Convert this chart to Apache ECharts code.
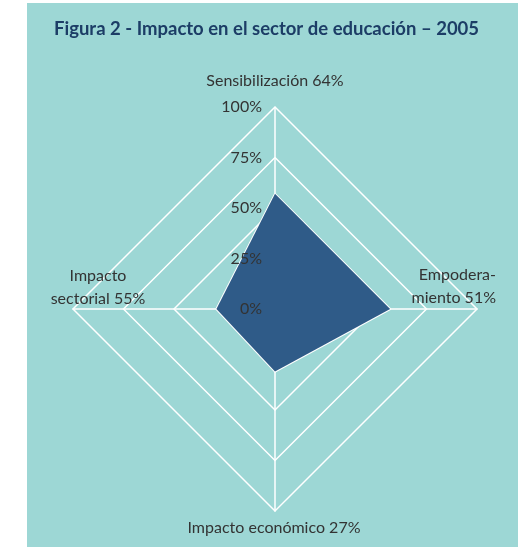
<!DOCTYPE html>
<html>
<head>
<meta charset="utf-8">
<script src="https://cdn.jsdelivr.net/npm/echarts@6/dist/echarts.min.js"></script>
<style>
  html, body { margin: 0; padding: 0; background: #ffffff; }
  #bg { position: absolute; left: 27px; top: 3px; width: 491px; height: 544px; background: #9dd7d5; }
  #chart { position: absolute; left: 0; top: 0; width: 525px; height: 550px; }
</style>
</head>
<body>
<div id="bg"></div>
<div id="chart"></div>
<script>
// Indicators in ECharts order (counter-clockwise from top): top, left, bottom, right
const indicatorNames = ['Sensibilización 64%', 'Impacto\nsectorial 55%', 'Impacto económico 27%', 'Empodera-\nmiento 51%'];
const seriesValues = [57, 29, 31, 57];
const tickValues = [0, 25, 50, 75, 100];
const titleText = 'Figura 2 - Impacto en el sector de educación – 2005';

const FONT = 'Lato';
const cx = 275, cy = 309, R = 202;

const chart = echarts.init(document.getElementById('chart'), null, { renderer: 'canvas' });
chart.setOption({
  backgroundColor: 'transparent',
  animation: false,
  textStyle: { fontFamily: FONT },
  title: {
    text: titleText,
    left: 49, top: 15,
    textStyle: { fontFamily: FONT, fontSize: 18.5, fontWeight: 'bold', color: '#1c3d66' }
  },
  radar: {
    center: [cx, cy],
    radius: R,
    shape: 'polygon',
    startAngle: 90,
    splitNumber: 4,
    min: 0, max: 100,
    indicator: indicatorNames.map(n => ({ name: n, min: 0, max: 100 })),
    axisName: { show: false },
    axisLine: { lineStyle: { color: '#ffffff', width: 1.5 } },
    splitLine: { lineStyle: { color: '#ffffff', width: 1.5 } },
    splitArea: { show: false },
    axisLabel: { show: false },
    axisTick: { show: false }
  },
  grid: { left: cx, top: cy - R, height: R, width: 10, containLabel: false, z: 20 },
  xAxis: { type: 'value', show: false },
  yAxis: {
    type: 'value', min: 0, max: 100, interval: 25, z: 20,
    axisLine: { show: false }, axisTick: { show: false }, splitLine: { show: false },
    axisLabel: { formatter: '{value}%', margin: 13, color: '#333333', fontSize: 16, fontFamily: FONT }
  },
  series: [{
    type: 'radar',
    symbol: 'none',
    z: 2,
    data: [{ value: seriesValues }],
    lineStyle: { color: '#ffffff', width: 2 },
    areaStyle: { color: '#2f5b88', opacity: 1 }
  }],
  graphic: {
    elements: [
      { type: 'text', z: 100, style: { text: indicatorNames[0], x: cx, y: 81, textAlign: 'center', textVerticalAlign: 'middle', fill: '#333333', font: '16px ' + FONT } },
      { type: 'text', z: 100, style: { text: indicatorNames[1], x: 98, y: 264, textAlign: 'center', lineHeight: 23, fill: '#333333', font: '16px ' + FONT } },
      { type: 'text', z: 100, style: { text: indicatorNames[2], x: 274, y: 528, textAlign: 'center', textVerticalAlign: 'middle', fill: '#333333', font: '16px ' + FONT } },
      { type: 'text', z: 100, style: { text: indicatorNames[3], x: 496, y: 263, textAlign: 'right', lineHeight: 23, fill: '#333333', font: '16px ' + FONT } }
    ]
  }
});
</script>
</body>
</html>
